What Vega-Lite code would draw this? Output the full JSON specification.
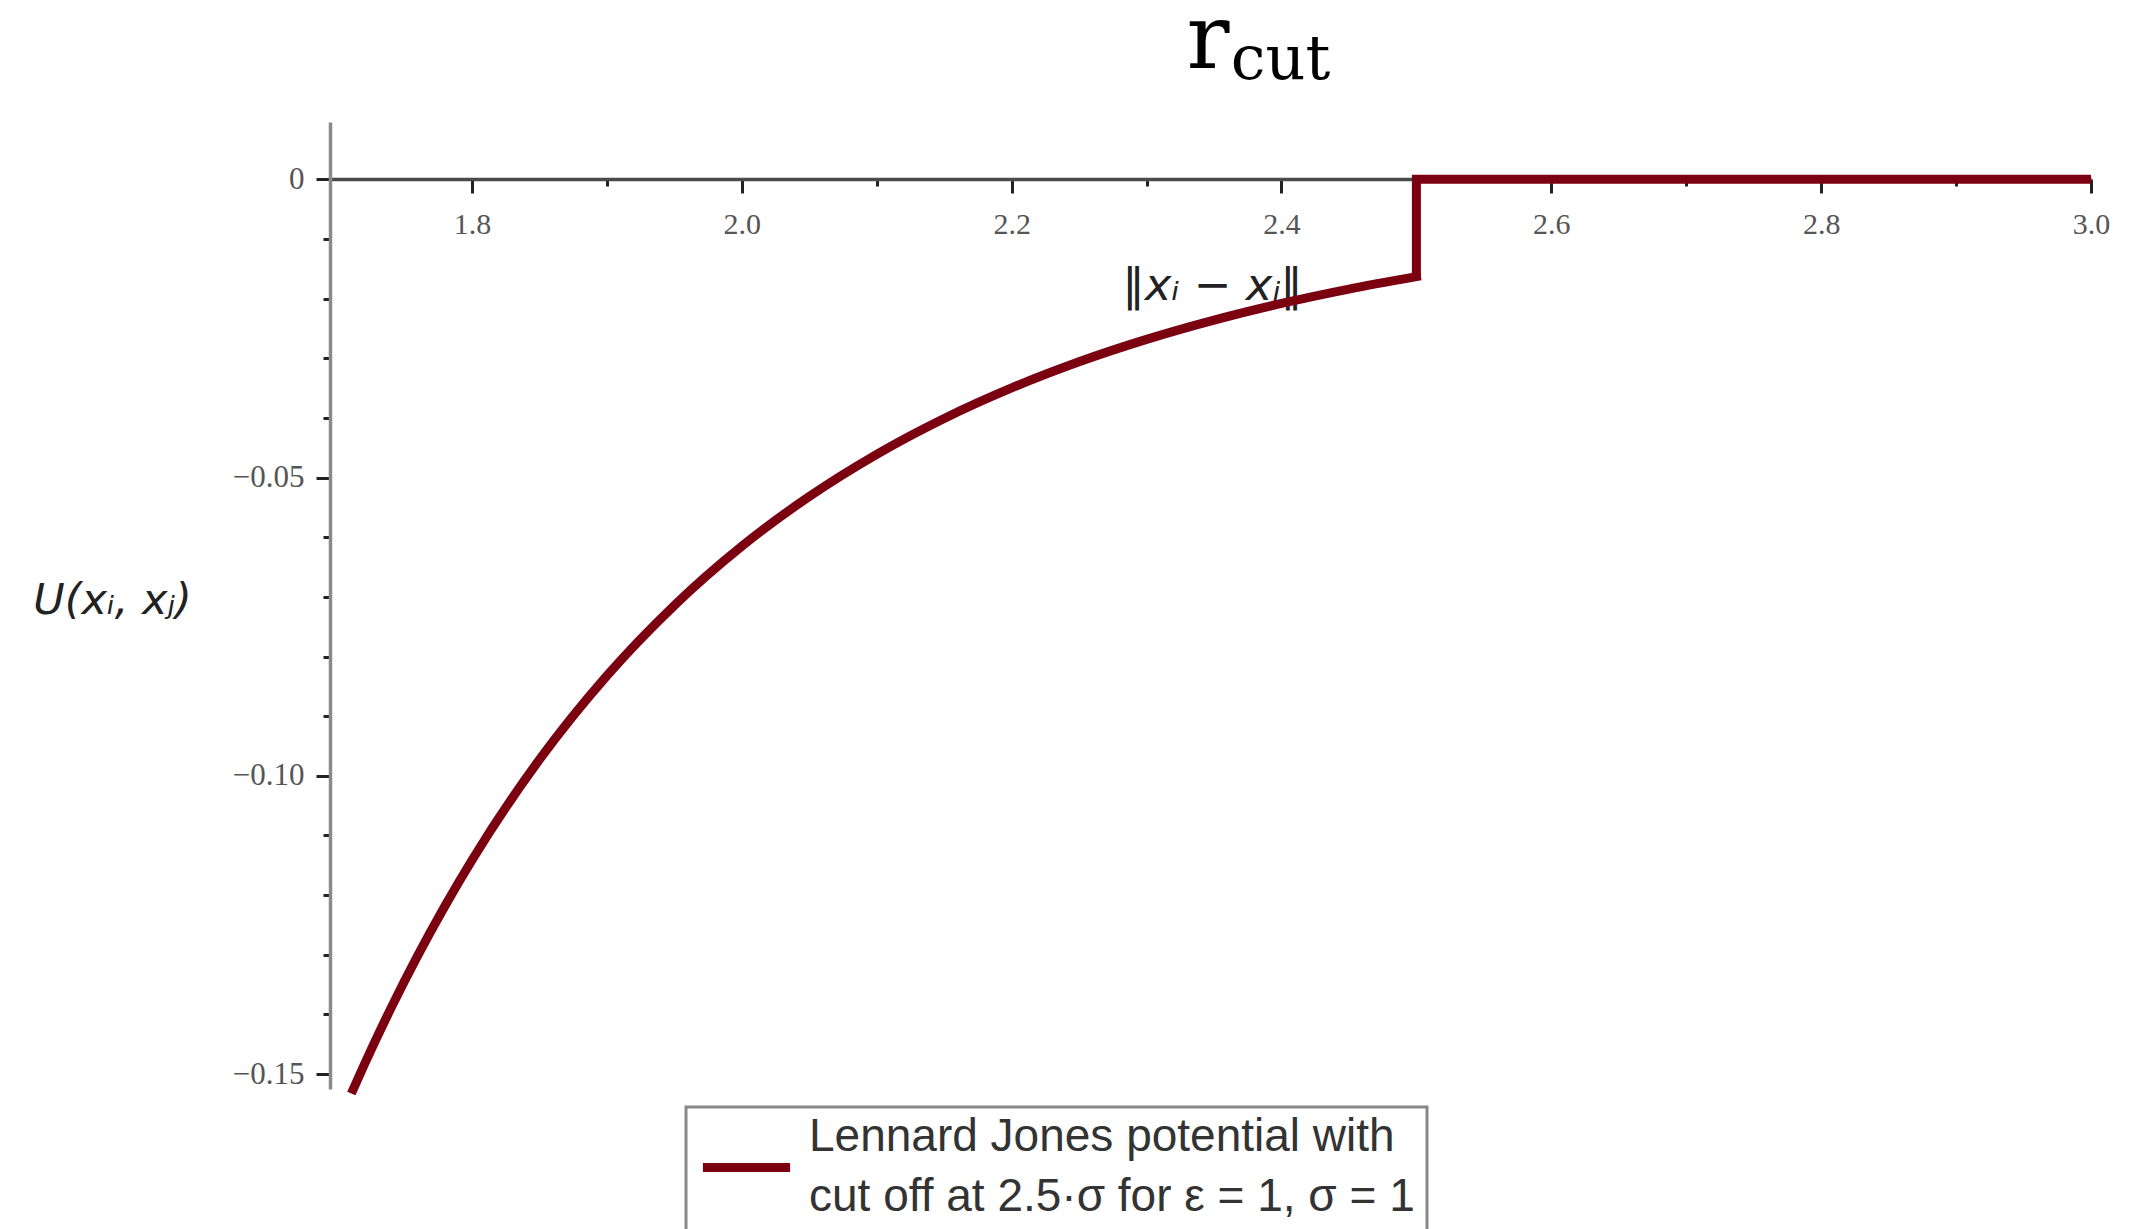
{
  "$schema": "https://vega.github.io/schema/vega-lite/v6.json",
  "autosize": "none",
  "width": 1761,
  "height": 967,
  "padding": {"left": 330, "top": 122, "right": 38, "bottom": 140},
  "background": "white",
  "config": {
    "view": {"stroke": null},
    "style": {"guide-label": {"lineHeight": 60}},
    "legend": {"strokeWidth": 3}
  },
  "datasets": {
    "curve": [
      {"r": 1.712, "u": -0.15256, "series": "LJ"},
      {"r": 1.72, "u": -0.14852, "series": "LJ"},
      {"r": 1.74, "u": -0.13894, "series": "LJ"},
      {"r": 1.76, "u": -0.13005, "series": "LJ"},
      {"r": 1.78, "u": -0.12181, "series": "LJ"},
      {"r": 1.8, "u": -0.11415, "series": "LJ"},
      {"r": 1.85, "u": -0.09729, "series": "LJ"},
      {"r": 1.9, "u": -0.08322, "series": "LJ"},
      {"r": 1.95, "u": -0.07143, "series": "LJ"},
      {"r": 2.0, "u": -0.06152, "series": "LJ"},
      {"r": 2.05, "u": -0.05317, "series": "LJ"},
      {"r": 2.1, "u": -0.0461, "series": "LJ"},
      {"r": 2.15, "u": -0.04009, "series": "LJ"},
      {"r": 2.2, "u": -0.03497, "series": "LJ"},
      {"r": 2.25, "u": -0.03059, "series": "LJ"},
      {"r": 2.3, "u": -0.02684, "series": "LJ"},
      {"r": 2.35, "u": -0.02361, "series": "LJ"},
      {"r": 2.4, "u": -0.02082, "series": "LJ"},
      {"r": 2.45, "u": -0.01841, "series": "LJ"},
      {"r": 2.5, "u": -0.01632, "series": "LJ"}
    ],
    "step": [
      {"i": 0, "r": 2.5, "u": -0.01632, "series": "LJ"},
      {"i": 1, "r": 2.5, "u": 0, "series": "LJ"},
      {"i": 2, "r": 3.0, "u": 0, "series": "LJ"}
    ]
  },
  "layer": [
    {
      "data": {"name": "curve"},
      "mark": {"type": "line", "strokeWidth": 9, "interpolate": "monotone", "strokeCap": "square", "clip": false},
      "encoding": {
        "x": {
          "field": "r", "type": "quantitative",
          "scale": {"domain": [1.6948, 3.0], "nice": false, "zero": false},
          "axis": {
            "orient": "bottom",
            "offset": -910,
            "values": [1.8, 1.9, 2.0, 2.1, 2.2, 2.3, 2.4, 2.5, 2.6, 2.7, 2.8, 2.9, 3.0],
            "labelExpr": "round(datum.value*10) % 2 == 0 ? format(datum.value, '.1f') : ''",
            "labelFont": "Liberation Serif",
            "labelFontSize": 30,
            "labelColor": "#555",
            "labelPadding": 16,
            "labelFlush": false,
            "labelOverlap": false,
            "tickSize": {"condition": {"test": "round(datum.value*10) % 2 == 0", "value": 14}, "value": 7},
            "tickColor": "#222",
            "tickWidth": 3,
            "domainColor": "#4a4a4a",
            "domainWidth": 3.5,
            "grid": false,
            "title": "‖xᵢ − xⱼ‖",
            "titleFont": "DejaVu Sans",
            "titleFontStyle": "italic",
            "titleFontWeight": "normal",
            "titleFontSize": 45,
            "titleColor": "#222",
            "titleAnchor": "start",
            "titleAlign": "center",
            "titleBaseline": "middle",
            "titleX": 882,
            "titleY": 106
          }
        },
        "y": {
          "field": "u", "type": "quantitative",
          "scale": {"domain": [-0.1525, 0.0096], "nice": false, "zero": false},
          "axis": {
            "orient": "left",
            "values": [0, -0.01, -0.02, -0.03, -0.04, -0.05, -0.06, -0.07, -0.08, -0.09, -0.1, -0.11, -0.12, -0.13, -0.14, -0.15],
            "labelExpr": "datum.value == 0 ? '0' : (round(datum.value*100) % 5 == 0 ? format(datum.value, '.2f') : '')",
            "labelFont": "Liberation Serif",
            "labelFontSize": 31,
            "labelColor": "#555",
            "labelPadding": 12,
            "labelFlush": false,
            "labelOverlap": false,
            "tickSize": {"condition": {"test": "round(datum.value*100) % 5 == 0", "value": 14}, "value": 7},
            "tickColor": "#222",
            "tickWidth": 3,
            "domainColor": "#8a8a8a",
            "domainWidth": 3.5,
            "grid": false,
            "title": "U(xᵢ, xⱼ)",
            "titleFont": "DejaVu Sans",
            "titleFontStyle": "italic",
            "titleFontWeight": "normal",
            "titleFontSize": 43,
            "titleColor": "#222",
            "titleAngle": 0,
            "titleAlign": "center",
            "titleBaseline": "middle",
            "titleAnchor": "start",
            "titleX": -218,
            "titleY": 478
          }
        },
        "color": {
          "field": "series", "type": "nominal",
          "scale": {"domain": ["LJ"], "range": ["#7b0010"]},
          "legend": {
            "orient": "none",
            "legendX": 356,
            "legendY": 985,
            "title": null,
            "padding": 12,
            "strokeColor": "#888",
            "fillColor": "white",
            "symbolType": "stroke",
            "symbolSize": 7600,
            "symbolStrokeWidth": 9,
            "labelOffset": 14,
            "labelFont": "Liberation Sans",
            "labelFontSize": 46,
            "labelColor": "#333",
            "labelLimit": 1000,
            "labelBaseline": "line-bottom",
            "labelExpr": "['Lennard Jones potential with', 'cut off at 2.5·σ for ε = 1, σ = 1']"
          }
        }
      }
    },
    {
      "data": {"name": "step"},
      "mark": {"type": "line", "strokeWidth": 9, "strokeJoin": "miter", "strokeCap": "butt", "clip": false},
      "encoding": {
        "x": {"field": "r", "type": "quantitative"},
        "y": {"field": "u", "type": "quantitative"},
        "order": {"field": "i", "type": "quantitative"},
        "color": {"field": "series", "type": "nominal"}
      }
    },
    {
      "data": {"values": [{"label": "r"}]},
      "mark": {"type": "text", "font": "DejaVu Serif", "fontSize": 90, "align": "left", "baseline": "alphabetic", "color": "black"},
      "encoding": {
        "x": {"datum": 2.3296, "type": "quantitative"},
        "y": {"datum": 0.0186, "type": "quantitative"},
        "text": {"field": "label"}
      }
    },
    {
      "data": {"values": [{"label": "cut"}]},
      "mark": {"type": "text", "font": "DejaVu Serif", "fontSize": 62, "align": "left", "baseline": "alphabetic", "color": "black"},
      "encoding": {
        "x": {"datum": 2.3625, "type": "quantitative"},
        "y": {"datum": 0.0168, "type": "quantitative"},
        "text": {"field": "label"}
      }
    }
  ]
}
